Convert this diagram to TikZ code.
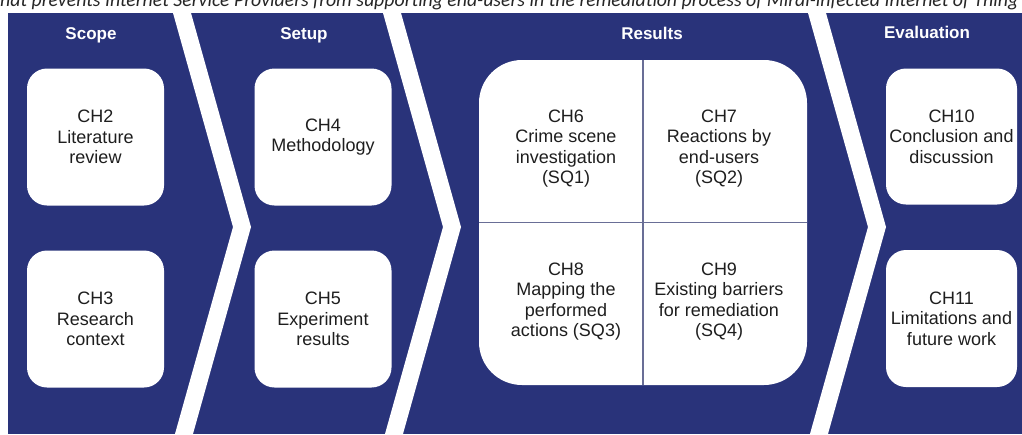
\documentclass[tikz,border=0pt]{standalone}
\usepackage{fontspec}
\setmainfont{Liberation Sans}
\newfontfamily\captionfont{Carlito}

\definecolor{phaseblue}{RGB}{41,51,122}
\definecolor{chaptergray}{RGB}{30,30,30}
\definecolor{splitline}{RGB}{105,110,150}

\tikzset{
    phase/.style={anchor=base, inner sep=0pt, text=white, font=\fontsize{17}{20}\selectfont\bfseries},
    chapbox/.style={fill=white, rounded corners=20pt, minimum width=137pt, minimum height=137pt,
        inner sep=0pt, align=center, text=chaptergray, font=\fontsize{18}{20.5}\selectfont},
    quadtext/.style={inner sep=0pt, align=center, text=chaptergray, font=\fontsize{18}{20.5}\selectfont}
}

\begin{document}
\begin{tikzpicture}[x=1pt, y=-1pt]
        \useasboundingbox (0,0) rectangle (1022,434);

        % caption line, cut by the page edge
        \node[anchor=base west, inner sep=0pt, text=black!85,
            font=\captionfont\itshape\fontsize{19.8}{22}\selectfont] (caption) at (0,6)
            {hat prevents Internet Service Providers from supporting end-users in the remediation process of Mirai-infected Internet of Thing};

        % blue band with white chevrons
        \fill[phaseblue] (8,13) rectangle (1022,434);
        \foreach \xs in {173,383,808} {
            \fill[white] (\xs,13) -- (\xs+60,227) -- (\xs,441) -- (\xs+18,441) -- (\xs+78,227) -- (\xs+18,13) -- cycle;
        }

        % phases
        \node[phase] (scope) at (91,39) {Scope};
        \node[phase] (setup) at (304,39) {Setup};
        \node[phase] (results) at (652,39) {Results};
        \node[phase] (evaluation) at (927,38) {Evaluation};

        % chapters
        \node[chapbox] (ch2) at (95.5,137) {CH2\\Literature\\review};
        \node[chapbox] (ch3) at (95.5,319) {CH3\\Research\\context};
        \node[chapbox] (ch4) at (323,137) {CH4\\Methodology};
        \node[chapbox] (ch5) at (323,319) {CH5\\Experiment\\results};
        \node[chapbox, minimum width=131pt, minimum height=136pt] (ch10) at (951.5,136.5) {CH10\\Conclusion and\\discussion};
        \node[chapbox, minimum width=131pt] (ch11) at (951.5,318.5) {CH11\\Limitations and\\future work};

        \node[fill=white, rounded corners=43pt, minimum width=328pt, minimum height=325pt, inner sep=0pt] (resultbox) at (643,222.5) {};
        \draw[splitline, line width=1.2pt] (resultbox.north) -- (resultbox.south);
        \draw[splitline, line width=1.2pt] (resultbox.west) -- (resultbox.east);

        \node[quadtext] (ch6) at (566,148.5) {CH6\\Crime scene\\investigation\\(SQ1)};
        \node[quadtext] (ch7) at (719,148.5) {CH7\\Reactions by\\end-users\\(SQ2)};
        \node[quadtext] (ch8) at (566,301.5) {CH8\\Mapping the\\performed\\actions (SQ3)};
        \node[quadtext] (ch9) at (719,301.5) {CH9\\Existing barriers\\for remediation\\(SQ4)};

    \end{tikzpicture}
\end{document}
